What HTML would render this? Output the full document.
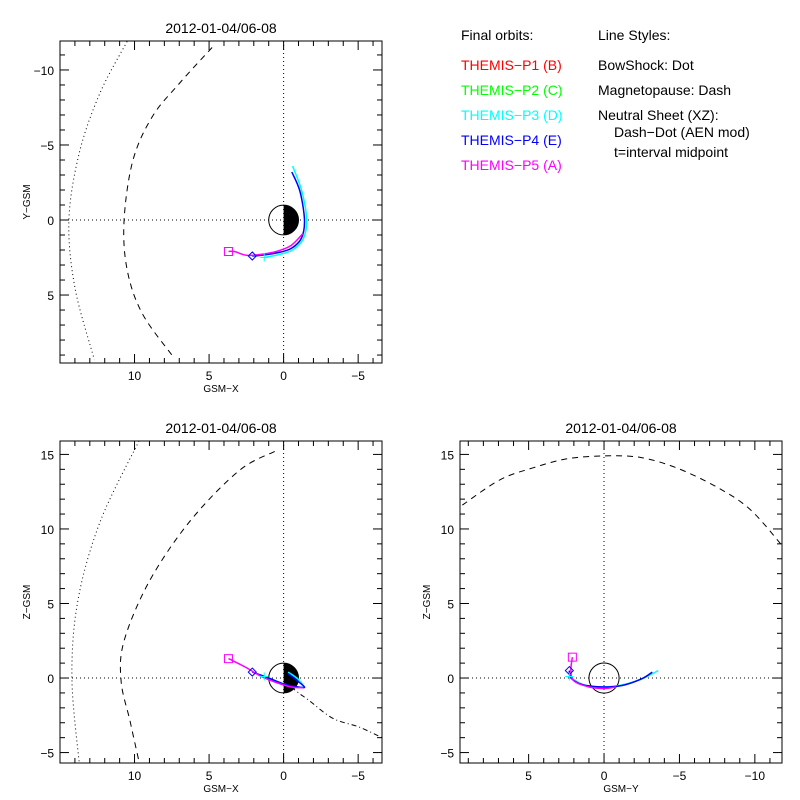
<!DOCTYPE html>
<html><head><meta charset="utf-8"><style>
html,body{margin:0;padding:0;background:#fff;}
svg{display:block;font-family:"Liberation Sans",sans-serif;}
</style></head><body>
<svg id="c" width="800" height="800" viewBox="0 0 800 800">
<rect width="800" height="800" fill="#fff"/>
<g font-size="14">
<text x="461" y="40" fill="#000">Final orbits:</text>
<text x="461" y="70" fill="#ff0000">THEMIS−P1 (B)</text>
<text x="461" y="95" fill="#00ff00">THEMIS−P2 (C)</text>
<text x="461" y="120" fill="#00ffff">THEMIS−P3 (D)</text>
<text x="461" y="145" fill="#0000ff">THEMIS−P4 (E)</text>
<text x="461" y="170" fill="#ff00ff">THEMIS−P5 (A)</text>
<text x="598" y="40">Line Styles:</text>
<text x="598" y="70">BowShock: Dot</text>
<text x="598" y="95">Magnetopause: Dash</text>
<text x="598" y="120">Neutral Sheet (XZ):</text>
<text x="614" y="137">Dash−Dot (AEN mod)</text>
<text x="614" y="157">t=interval midpoint</text>
</g>
</svg>
<script>
// ---- data ----
const xyBowX=[10.5,12.3,13.7,14.4,14.0,12.7];
const xyBowY=[-11.9,-8.5,-4.5,0,4.5,9.3];
const xyMpX=[4.8,7.0,8.8,10.1,10.7,10.5,9.5,7.5];
const xyMpY=[-11.5,-9.1,-6.9,-4.0,0,3.3,6.2,9.0];
const xyCyanX=[-0.6,-1.2,-1.55,-1.3,-0.6,0.3,1.3];
const xyCyanY=[-3.6,-2,0,1.3,2.0,2.3,2.5];
const xyBlueX=[-0.55,-1.1,-1.4,-1.2,-0.5,0.5,1.5,2.1];
const xyBlueY=[-3.2,-1.9,0,1.2,1.9,2.2,2.35,2.4];
const xyMagX=[-1.3,-0.5,0.5,1.6,2.5,3.3,3.7];
const xyMagY=[0.9,1.7,2.1,2.3,2.35,2.1,2.1];

const xzBowX=[9.7,12.3,13.8,14.2,13.7];
const xzBowZ=[15.9,10.5,5.2,0,-5.8];
const xzMpX=[0.6,3,6.3,9,10.7,10.9,10.3,9.7];
const xzMpZ=[15.2,13.9,10.5,6.5,2.5,-0.2,-2.9,-5.6];
const xzNsX=[-0.5,-1.1,-1.7,-3.3,-5.1,-6.6];
const xzNsZ=[-0.6,-1.07,-1.5,-2.7,-3.3,-4.0];
const xzCyanX=[1.3,0.5,-0.5,-1.3,-1.0,-0.3];
const xzCyanZ=[0.1,-0.2,-0.55,-0.6,-0.1,0.4];
const xzBlueX=[2.1,1.0,0,-1.0,-1.4,-0.8,-0.3];
const xzBlueZ=[0.4,0,-0.4,-0.6,-0.6,-0.1,0.3];
const xzMagX=[3.7,2.5,1.5,0.5,-0.5,-1.3];
const xzMagZ=[1.3,0.7,0.1,-0.3,-0.6,-0.65];

const yzMpY=[9.4,6.9,4.7,2.5,0,-2.4,-4.8,-7.5,-9.7,-11.8];
const yzMpZ=[11.6,13.3,14.1,14.7,14.9,14.8,14.1,12.8,11.3,8.9];
const yzCyanY=[2.3,1.5,0.5,-1,-2.4,-3.6];
const yzCyanZ=[0.1,-0.4,-0.6,-0.5,-0.1,0.5];
const yzBlueY=[2.3,2.2,1.4,0,-1.2,-2.5,-3.2];
const yzBlueZ=[0.5,0,-0.45,-0.6,-0.5,-0.05,0.4];
const yzMagY=[2.1,2.2,2,1,0,-0.8];
const yzMagZ=[1.4,0.5,-0.2,-0.6,-0.7,-0.6];

const titleText="2012-01-04/06-08";
const xTicksX=[10,5,0,-5];
const yTicksXY=[-10,-5,0,5];
const zTicks=[15,10,5,0,-5];
const yTicksYZ=[5,0,-5,-10];

const NS="http://www.w3.org/2000/svg";
const svg=document.getElementById('c');
function mk(tag,attrs,parent){const e=document.createElementNS(NS,tag);for(const k in attrs)e.setAttribute(k,attrs[k]);(parent||svg).appendChild(e);return e;}
function lin(d0,d1,r0,r1){return v=>r0+(v-d0)*(r1-r0)/(d1-d0);}
function lab(v){return v<0?'−'+(-v):String(v);}

function panel(name,L,T,R,B,xd,yd,xt,yt,xlab,ylab){
  const g=mk('g',{});
  
  
  const sx=lin(xd[0],xd[1],L,R), sy=lin(yd[0],yd[1],T,B);
  const t=mk('text',{x:(L+R)/2,y:T-8,'text-anchor':'middle','font-size':14},g);t.textContent=titleText;
  
  
  const xmin=Math.ceil(Math.min(...xd)),xmax=Math.floor(Math.max(...xd));
  for(let v=xmin;v<=xmax;v++){const p=sx(v),len=v%5===0?9:5;
    mk('line',{x1:p,y1:B,x2:p,y2:B-len,stroke:'#000'},g);mk('line',{x1:p,y1:T,x2:p,y2:T+len,stroke:'#000'},g);}
  const ymin=Math.ceil(Math.min(...yd)),ymax=Math.floor(Math.max(...yd));
  for(let v=ymin;v<=ymax;v++){const p=sy(v),len=v%5===0?9:5;
    mk('line',{x1:L,y1:p,x2:L+len,y2:p,stroke:'#000'},g);mk('line',{x1:R,y1:p,x2:R-len,y2:p,stroke:'#000'},g);}
  xt.forEach(v=>{const e=mk('text',{x:sx(v),y:B+17,'text-anchor':'middle','font-size':12},g);e.textContent=lab(v);
    
    });
  yt.forEach(v=>{const e=mk('text',{x:L-6,y:sy(v)+5,'text-anchor':'end','font-size':12},g);e.textContent=lab(v);
    
    });
  const xa=mk('text',{x:(L+R)/2,y:B+29,'text-anchor':'middle','font-size':10},g);xa.textContent=xlab;
  
  
  const ya=mk('text',{x:L-30,y:(T+B)/2,'text-anchor':'middle','font-size':10,transform:`rotate(-90 ${L-30} ${(T+B)/2})`},g);ya.textContent=ylab;
  
  
  const z1=mk('line',{x1:L,y1:sy(0),x2:R,y2:sy(0),stroke:'#000','stroke-dasharray':'1 3'},g);
  
  
  const z2=mk('line',{x1:sx(0),y1:T,x2:sx(0),y2:B,stroke:'#000','stroke-dasharray':'1 3'},g);
  
  
  const cp='clip-'+name;const cl=mk('clipPath',{id:cp},g);mk('rect',{x:L,y:T,width:R-L,height:B-T},cl);
  const inner=mk('g',{'clip-path':`url(#${cp})`},g);
  const fr=mk('rect',{x:L,y:T,width:R-L,height:B-T,fill:'none',stroke:'#000'},g);
  
  
  return {g:inner,sx,sy};
}
function line(P,xs,ys,attrs,nm){
  const p=xs.map((v,i)=>[P.sx(v),P.sy(ys[i])]);
  let d='M'+p[0][0].toFixed(1)+','+p[0][1].toFixed(1);
  for(let i=0;i<p.length-1;i++){
    const p0=p[Math.max(i-1,0)],p1=p[i],p2=p[i+1],p3=p[Math.min(i+2,p.length-1)];
    const c1=[p1[0]+(p2[0]-p0[0])/6,p1[1]+(p2[1]-p0[1])/6];
    const c2=[p2[0]-(p3[0]-p1[0])/6,p2[1]-(p3[1]-p1[1])/6];
    d+=` C${c1[0].toFixed(1)},${c1[1].toFixed(1)} ${c2[0].toFixed(1)},${c2[1].toFixed(1)} ${p2[0].toFixed(1)},${p2[1].toFixed(1)}`;
  }
  const e=mk('path',Object.assign({d,fill:'none'},attrs),P.g);
  
  
}
function earth(P,night){
  const cx=P.sx(0),cy=P.sy(0),r=Math.abs(P.sx(1)-P.sx(0));
  if(night){const e=mk('path',{d:`M${cx},${cy-r} A${r},${r} 0 0 1 ${cx},${cy+r} Z`,fill:'#000'},P.g);
    
    }
  const c=mk('circle',{cx,cy,r,fill:'none',stroke:'#000'},P.g);
  
  
}
function markers(P,sqx,sqy,dx,dy,px,py){
  const a=P.sx(sqx),b=P.sy(sqy);
  const s=mk('rect',{x:a-4,y:b-4,width:8,height:8,fill:'none',stroke:'#ff00ff'},P.g);
  
  
  const c=P.sx(dx),d=P.sy(dy);
  const m=mk('polygon',{points:`${c-4},${d} ${c},${d-4} ${c+4},${d} ${c},${d+4}`,fill:'none',stroke:'#0000ff'},P.g);
  
  
  const e=P.sx(px),f=P.sy(py);
  const pl=mk('path',{d:`M${e-4},${f}H${e+4}M${e},${f-4}V${f+4}`,stroke:'#00ffff'},P.g);
  
  
}
function orbits(P,cx,cy,bx,by,mx,my){
  line(P,cx,cy,{stroke:'#00ffff','stroke-width':1.5},'orbit-p3');
  line(P,bx,by,{stroke:'#0000ff','stroke-width':1.5},'orbit-p4');
  line(P,mx,my,{stroke:'#ff00ff','stroke-width':1.5},'orbit-p5');
}

const P1=panel('xy-panel',60,41,382,363,[15.0,-6.6],[-11.93,9.53],xTicksX,yTicksXY,'GSM−X','Y−GSM');
line(P1,xyBowX,xyBowY,{stroke:'#000','stroke-dasharray':'1 3'},'bowshock');
line(P1,xyMpX,xyMpY,{stroke:'#000','stroke-dasharray':'6 5'},'magnetopause');
earth(P1,true);
orbits(P1,xyCyanX,xyCyanY,xyBlueX,xyBlueY,xyMagX,xyMagY);
markers(P1,xyMagX[xyMagX.length-1],xyMagY[xyMagY.length-1],xyBlueX[xyBlueX.length-1],xyBlueY[xyBlueY.length-1],xyCyanX[xyCyanX.length-1],xyCyanY[xyCyanY.length-1]);

const P2=panel('xz-panel',60,441,382,763,[15.0,-6.6],[15.9,-5.7],xTicksX,zTicks,'GSM−X','Z−GSM');
line(P2,xzBowX,xzBowZ,{stroke:'#000','stroke-dasharray':'1 3'},'bowshock');
line(P2,xzMpX,xzMpZ,{stroke:'#000','stroke-dasharray':'6 5'},'magnetopause');
line(P2,xzNsX,xzNsZ,{stroke:'#000','stroke-dasharray':'5 3 1 3'},'neutral-sheet');
earth(P2,true);
orbits(P2,xzCyanX,xzCyanZ,xzBlueX,xzBlueZ,xzMagX,xzMagZ);
markers(P2,xzMagX[0],xzMagZ[0],xzBlueX[0],xzBlueZ[0],xzCyanX[0],xzCyanZ[0]);

const P3=panel('yz-panel',460,441,782,763,[9.55,-11.8],[15.9,-5.7],yTicksYZ,zTicks,'GSM−Y','Z−GSM');
line(P3,yzMpY,yzMpZ,{stroke:'#000','stroke-dasharray':'6 5'},'magnetopause');
earth(P3,false);
orbits(P3,yzCyanY,yzCyanZ,yzBlueY,yzBlueZ,yzMagY,yzMagZ);
markers(P3,yzMagY[0],yzMagZ[0],yzBlueY[0],yzBlueZ[0],yzCyanY[0],yzCyanZ[0]);
</script>
</body></html>
